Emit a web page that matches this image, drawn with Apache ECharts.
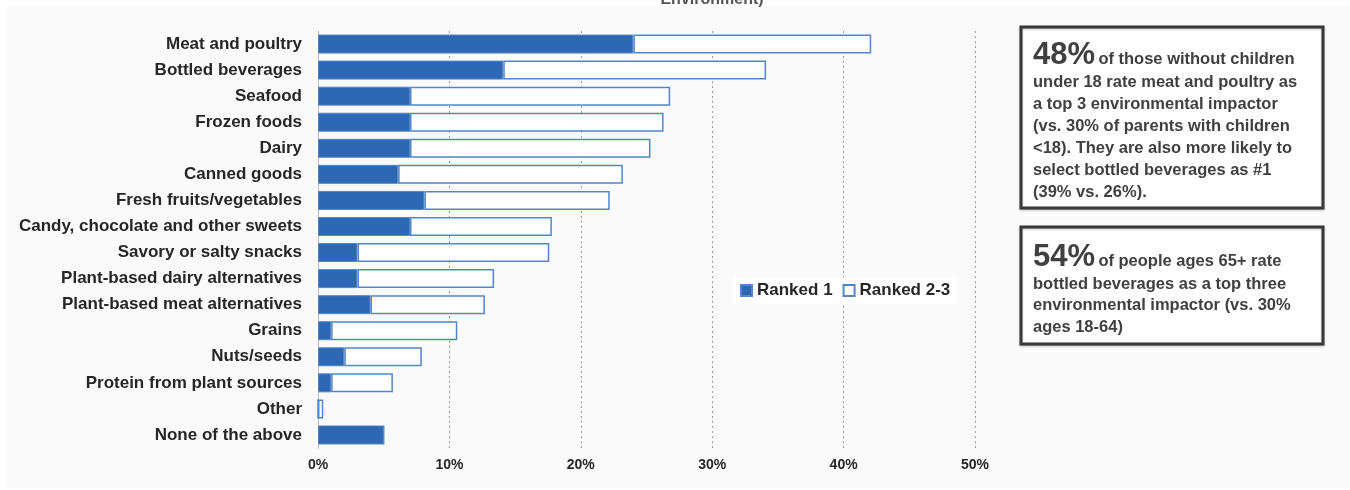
<!DOCTYPE html>
<html>
<head>
<meta charset="utf-8">
<script src="https://cdn.jsdelivr.net/npm/echarts@6/dist/echarts.min.js"></script>
<style>
  html, body { margin: 0; padding: 0; background: #ffffff; }
  #chart { width: 1350px; height: 490px; }
</style>
</head>
<body>
<div id="chart"></div>
<script>
// Foods rated as a top environmental impactor (share of respondents, %)
const categories = [
  'Meat and poultry', 'Bottled beverages', 'Seafood', 'Frozen foods', 'Dairy',
  'Canned goods', 'Fresh fruits/vegetables', 'Candy, chocolate and other sweets',
  'Savory or salty snacks', 'Plant-based dairy alternatives',
  'Plant-based meat alternatives', 'Grains', 'Nuts/seeds',
  'Protein from plant sources', 'Other', 'None of the above'
];
const ranked1 = [24, 14.1, 7, 7, 7, 6.1, 8.1, 7, 3, 3, 4, 1, 2, 1, 0, 5];
const ranked23 = [18.1, 20, 19.8, 19.3, 18.3, 17.1, 14.1, 10.8, 14.6, 10.4, 8.7, 9.6, 5.9, 4.7, 0.4, 0];
const seriesNames = ['Ranked 1', 'Ranked 2-3'];
const axisMax = 50;
const axisStep = 10;

const noteParents = {
  big: '48%',
  lead: 'of those without children',
  lines: [
    'under 18 rate meat and poultry as',
    'a top 3 environmental impactor',
    '(vs. 30% of parents with children',
    '<18). They are also more likely to',
    'select bottled beverages as #1',
    '(39% vs. 26%).'
  ]
};
const noteSeniors = {
  big: '54%',
  lead: 'of people ages 65+ rate',
  lines: [
    'bottled beverages as a top three',
    'environmental impactor (vs. 30%',
    'ages 18-64)'
  ]
};

const BLUE = '#2e67b3';
const EDGE = '#5286c9';
const INK = '#262626';
const NOTE_INK = '#404040';
const FONT = '"Liberation Sans", Arial, sans-serif';

function noteBox(note, x, y, w, h, firstY, step) {
  const els = [{
    type: 'rect',
    shape: { x: x, y: y, width: w, height: h },
    style: { fill: '#ffffff', stroke: '#383838', lineWidth: 3,
             shadowColor: 'rgba(0,0,0,0.25)', shadowBlur: 2, shadowOffsetY: 1 }
  }, {
    type: 'text',
    x: x + 12, y: firstY,
    style: {
      text: '{big|' + note.big + '} {txt|' + note.lead + '}',
      verticalAlign: 'middle',
      rich: {
        big: { font: 'bold 31px ' + FONT, fill: NOTE_INK },
        txt: { font: 'bold 16.5px ' + FONT, fill: NOTE_INK, padding: [9, 0, 0, 0] }
      }
    }
  }];
  note.lines.forEach(function (line, i) {
    els.push({
      type: 'text',
      x: x + 12, y: firstY + 27 + i * step,
      style: { text: line, font: 'bold 16.5px ' + FONT, fill: NOTE_INK, verticalAlign: 'middle' }
    });
  });
  return els;
}

const chart = echarts.init(document.getElementById('chart'), null, { renderer: 'canvas' });

chart.setOption({
  backgroundColor: '#fafafa',
  animation: false,
  grid: { left: 318, right: 375, top: 31, bottom: 42, containLabel: false },
  legend: {
    data: seriesNames,
    left: 733, top: 277,
    itemWidth: 11, itemHeight: 11, itemGap: 10,
    backgroundColor: '#ffffff',
    padding: [5, 6, 5, 7],
    icon: 'rect',
    textStyle: { fontFamily: FONT, fontWeight: 'bold', fontSize: 17, color: INK }
  },
  xAxis: {
    type: 'value',
    min: 0, max: axisMax, interval: axisStep,
    axisLine: { show: false },
    axisTick: { show: false },
    axisLabel: {
      formatter: '{value}%', margin: 10,
      fontFamily: FONT, fontWeight: 'bold', fontSize: 14, color: INK
    },
    splitLine: { show: true, lineStyle: { color: '#9a9a9a', type: [2, 3], width: 1 } }
  },
  yAxis: {
    type: 'category',
    data: categories,
    inverse: true,
    axisLine: { show: true, lineStyle: { color: '#bdbdbd', width: 1 } },
    axisTick: { show: false },
    axisLabel: {
      margin: 16, fontFamily: FONT, fontWeight: 'bold', fontSize: 17, color: INK
    }
  },
  series: [{
    name: seriesNames[0],
    type: 'bar',
    stack: 'share',
    data: ranked1,
    barWidth: 19,
    itemStyle: { color: BLUE, borderColor: EDGE, borderWidth: 1 }
  }, {
    name: seriesNames[1],
    type: 'bar',
    stack: 'share',
    data: ranked23,
    barWidth: 19,
    itemStyle: { color: '#ffffff', borderColor: EDGE, borderWidth: 1.5 }
  }],
  graphic: [
    // white margins around the grey panel
    { type: 'rect', shape: { x: 0, y: 0, width: 1350, height: 7 }, style: { fill: '#ffffff' } },
    { type: 'rect', shape: { x: 0, y: 0, width: 7, height: 490 }, style: { fill: '#ffffff' } },
    { type: 'rect', shape: { x: 0, y: 488, width: 1350, height: 2 }, style: { fill: '#ffffff' } },
    {
      type: 'text', x: 712, y: 8,
      style: { text: 'Environment)', font: 'bold 16px ' + FONT, fill: '#555555',
               align: 'center', verticalAlign: 'bottom' }
    }
  ].concat(
    noteBox(noteParents, 1021, 27, 302, 181, 55, 22),
    noteBox(noteSeniors, 1021, 227, 302, 117, 257, 21.5)
  )
});
</script>
</body>
</html>
